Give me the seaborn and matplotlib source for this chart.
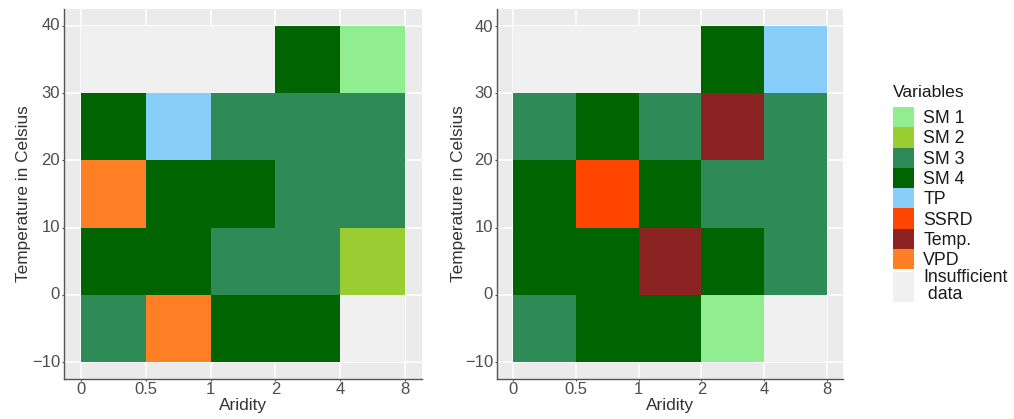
import numpy as np
import pandas as pd
import seaborn as sns
import matplotlib.pyplot as plt
from matplotlib.colors import ListedColormap
from matplotlib.patches import Patch, Rectangle
from matplotlib.legend_handler import HandlerPatch

# Class edges along each axis
aridity_edges = ["0", "0.5", "1", "2", "4", "8"]
temp_edges = [-10, 0, 10, 20, 30, 40]

# Legend classes and colours
variables = ["SM 1", "SM 2", "SM 3", "SM 4", "TP", "SSRD", "Temp.", "VPD",
             "Insufficient\n data"]
var_colors = ["#90EE90", "#9ACD32", "#2E8B57", "#006400", "#87CEFA",
              "#FF4500", "#8B2323", "#FF7F24", "#F0F0F0"]

NA = "Insufficient\n data"

# Dominant variable per cell, rows from the coldest band upwards
left_cells = [
    ["SM 3", "VPD", "SM 4", "SM 4", NA],
    ["SM 4", "SM 4", "SM 3", "SM 3", "SM 2"],
    ["VPD", "SM 4", "SM 4", "SM 3", "SM 3"],
    ["SM 4", "TP", "SM 3", "SM 3", "SM 3"],
    [NA, NA, NA, "SM 4", "SM 1"],
]
right_cells = [
    ["SM 3", "SM 4", "SM 4", "SM 1", NA],
    ["SM 4", "SM 4", "Temp.", "SM 4", "SM 3"],
    ["SM 4", "SSRD", "SM 4", "SM 3", "SM 3"],
    ["SM 3", "SM 4", "SM 3", "Temp.", "SM 3"],
    [NA, NA, NA, "SM 4", "TP"],
]

sns.set_theme(style="darkgrid")
plt.rcParams["font.family"] = ["Liberation Sans", "DejaVu Sans"]

W, H = 1014, 419
cmap = ListedColormap(var_colors)
fig = plt.figure(figsize=(W / 100, H / 100), dpi=100)

# (axes, cells, left edge px, width px, y-label right edge px)
panels = [
    (fig.add_axes([64 / W, 1 - 379 / H, 358 / W, 370 / H]), left_cells, 64, 358, 31),
    (fig.add_axes([497 / W, 1 - 379 / H, 346 / W, 370 / H]), right_cells, 497, 346, 466),
]

tick_col = "#4D4D4D"
title_col = "#333333"
for ax, cells, px_left, px_width, lab_px in panels:
    codes = pd.DataFrame([[variables.index(v) for v in row] for row in cells])
    sns.heatmap(codes, ax=ax, cmap=cmap, vmin=-0.5, vmax=len(variables) - 0.5,
                cbar=False, linewidths=0, square=False)
    ax.set_facecolor("#EBEBEB")
    ax.set_xlim(-0.26, 5.26)
    ax.set_ylim(-0.25, 5.25)
    ax.set_xticks(np.arange(len(aridity_edges)))
    ax.set_xticklabels(aridity_edges, rotation=0)
    ax.set_yticks(np.arange(len(temp_edges)))
    ax.set_yticklabels(["\u221210" if t < 0 else str(t) for t in temp_edges],
                       rotation=0)
    ax.grid(True, color="white", linewidth=1.1)
    ax.set_axisbelow(True)
    ax.tick_params(axis="both", which="major", labelsize=12, colors=tick_col,
                   labelcolor=tick_col, length=1.6, width=0.8,
                   direction="out", left=True, bottom=True)
    ax.tick_params(axis="x", pad=0.6)
    ax.tick_params(axis="y", pad=1.2)
    for s in ["top", "right"]:
        ax.spines[s].set_visible(False)
    for s in ["left", "bottom"]:
        ax.spines[s].set_visible(True)
        ax.spines[s].set_color("#555555")
        ax.spines[s].set_linewidth(1.0)
    ax.set_xlabel("Aridity", fontsize=12.4, color=title_col)
    ax.set_ylabel("Temperature in Celsius", fontsize=12.4, color=title_col)
    ax.xaxis.set_label_coords(0.5, (379 - 398) / 370)
    ax.yaxis.set_label_coords((lab_px - px_left) / px_width, 0.5)


class TallKey(HandlerPatch):
    """Legend key that spans both lines of a two-line label."""

    def create_artists(self, legend, orig_handle, xdescent, ydescent,
                       width, height, fontsize, trans):
        tall = height * 1.5
        r = Rectangle((-xdescent, -ydescent - (tall - height) / 2), width, tall,
                      facecolor=orig_handle.get_facecolor(), edgecolor="none",
                      transform=trans)
        return [r]


handles = [Patch(facecolor=c, edgecolor="none") for c in var_colors]
leg = fig.legend(handles, variables, title="Variables", loc="upper left",
                 bbox_to_anchor=(893 / W, 1 - 85 / H), frameon=False,
                 fontsize=12.8, title_fontsize=12.6, labelspacing=0.0,
                 handlelength=1.2, handleheight=1.38, handletextpad=0.5,
                 borderpad=0.0, borderaxespad=0.0, alignment="left",
                 handler_map={handles[-1]: TallKey()})
for t in leg.get_texts():
    t.set_linespacing(1.0)
    t.set_color("#1A1A1A")
leg.get_title().set_color("#1A1A1A")
leg._legend_box.sep = 5.0

fig.savefig("out.png", dpi=100)
